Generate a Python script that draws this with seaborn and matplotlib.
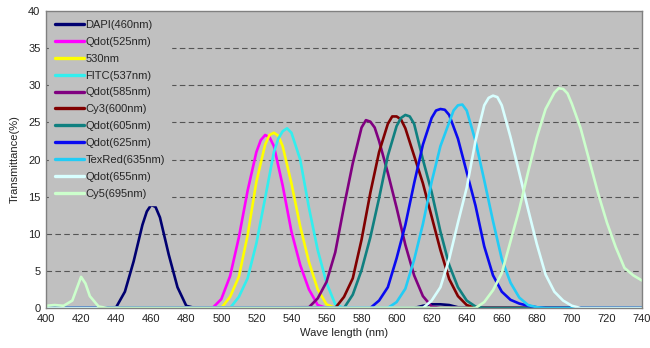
import matplotlib
matplotlib.use("Agg")
import matplotlib.pyplot as plt
import seaborn as sns
import pandas as pd

# ---- data ----
names = ["DAPI(460nm)", "Qdot(525nm)", "530nm", "FITC(537nm)", "Qdot(585nm)",
         "Cy3(600nm)", "Qdot(605nm)", "Qdot(625nm)", "TexRed(635nm)",
         "Qdot(655nm)", "Cy5(695nm)"]
colors = ["#000070", "#FF00FF", "#FFFF00", "#33EEEE", "#800080",
          "#800000", "#108080", "#0A0AF0", "#22CCF5", "#D8FFFF", "#CCFFCC"]

dapi_wl = [400, 440, 445, 450, 455, 457.5, 460, 462.5, 465, 470, 475, 480, 485,
           610, 615, 620, 625, 630, 635, 740]
dapi_t  = [0, 0.1, 2.2, 6.3, 11.2, 13.0, 13.9, 13.6, 12.2, 7.2, 2.8, 0.3, 0,
           0, 0.3, 0.5, 0.5, 0.4, 0.1, 0]

q525_wl = [400, 495, 500, 505, 510, 515, 520, 522.5, 525, 527.5, 530, 535, 540, 545, 550, 555, 560, 740]
q525_t  = [0, 0, 1.2, 4.3, 9.5, 15.8, 21.0, 22.6, 23.3, 23.0, 21.8, 16.5, 10.3, 5.8, 2.5, 0.4, 0, 0]

n530_wl = [400, 500, 505, 510, 515, 520, 525, 527.5, 530, 532.5, 535, 540, 545, 550, 555, 560, 565, 740]
n530_t  = [0, 0, 1.5, 4.2, 9.8, 17.0, 22.0, 23.3, 23.6, 23.2, 21.8, 16.8, 11.0, 6.2, 2.5, 0.5, 0, 0]

fitc_wl = [400, 505, 510, 515, 520, 525, 530, 532.5, 535, 537.5, 540, 545, 550, 555, 560, 565, 570, 740]
fitc_t  = [0, 0, 1.5, 4.0, 8.7, 14.8, 21.0, 22.8, 23.8, 24.2, 23.6, 20.0, 13.5, 7.8, 3.4, 0.5, 0, 0]

q585_wl = [400, 550, 555, 560, 565, 570, 575, 580, 582.5, 585, 587.5, 590, 595, 600, 605, 610, 615, 620, 625, 740]
q585_t  = [0, 0.1, 1.3, 3.5, 7.5, 13.7, 19.5, 24.3, 25.3, 25.1, 24.3, 22.5, 18.2, 13.5, 8.5, 4.4, 1.6, 0.2, 0, 0]

cy3_wl = [400, 565, 570, 575, 580, 585, 590, 595, 597.5, 600, 602.5, 605, 610, 615, 620, 625, 630, 635, 640, 645, 740]
cy3_t  = [0, 0, 1.5, 4.0, 9.2, 15.5, 21.0, 24.8, 25.8, 25.8, 25.4, 24.2, 20.5, 16.8, 12.3, 7.8, 3.9, 1.6, 0.4, 0, 0]

q605_wl = [400, 570, 575, 580, 585, 590, 595, 600, 602.5, 605, 607.5, 610, 615, 620, 625, 630, 635, 640, 645, 650, 740]
q605_t  = [0, 0, 1.8, 5.1, 9.5, 14.8, 20.5, 24.5, 25.6, 26.0, 25.8, 24.8, 20.0, 15.6, 10.3, 5.8, 2.8, 1.0, 0.2, 0, 0]

q625_wl = [400, 585, 590, 595, 600, 605, 610, 615, 620, 622.5, 625, 627.5, 630, 635, 640, 645, 650,
           655, 660, 665, 670, 675, 680, 685, 740]
q625_t  = [0, 0, 1.0, 2.8, 6.7, 11.2, 16.8, 22.0, 25.6, 26.6, 26.8, 26.7, 26.0, 22.8, 18.3, 13.8, 8.3,
           4.4, 2.2, 1.1, 0.6, 0.3, 0.1, 0, 0]

texred_wl = [400, 595, 600, 605, 610, 615, 620, 625, 630, 632.5, 635, 637.5, 640, 645, 650, 655, 660,
             665, 670, 675, 680, 685, 740]
texred_t  = [0, 0, 0.8, 2.6, 6.5, 11.3, 17.0, 21.8, 25.0, 26.6, 27.3, 27.4, 26.6, 22.5, 17.2, 11.7, 6.6,
             3.4, 1.4, 0.4, 0.1, 0, 0]

q655_wl = [400, 615, 620, 625, 630, 635, 640, 645, 650, 652.5, 655, 657.5, 660, 665, 670, 675, 680,
           685, 690, 695, 700, 705, 740]
q655_t  = [0, 0, 1.0, 2.8, 6.6, 11.5, 16.2, 22.5, 27.3, 28.3, 28.6, 28.4, 27.3, 23.0, 18.2, 13.3, 8.6,
           4.5, 2.2, 1.0, 0.3, 0, 0]

cy5_wl = [400, 405, 410, 415, 417.5, 420, 422.5, 425, 430, 435, 645, 650, 655, 660, 665, 670, 675, 680,
          685, 690, 692.5, 695, 697.5, 700, 705, 710, 715, 720, 725, 730, 735, 740]
cy5_t  = [0.3, 0.4, 0.3, 1.0, 2.6, 4.2, 3.3, 1.6, 0.2, 0, 0, 0.8, 2.4, 4.7, 9.0, 13.3, 18.3, 23.0,
          26.8, 29.0, 29.6, 29.5, 28.9, 27.5, 24.2, 19.8, 15.4, 11.5, 8.2, 5.4, 4.4, 3.7]

series = [(dapi_wl, dapi_t), (q525_wl, q525_t), (n530_wl, n530_t), (fitc_wl, fitc_t),
          (q585_wl, q585_t), (cy3_wl, cy3_t), (q605_wl, q605_t), (q625_wl, q625_t),
          (texred_wl, texred_t), (q655_wl, q655_t), (cy5_wl, cy5_t)]

x_ticks = list(range(400, 741, 20))
y_ticks = list(range(0, 41, 5))

# ---- build long-form table ----
rows = []
for name, (wl, t) in zip(names, series):
    for i, (w, v) in enumerate(zip(wl, t)):
        rows.append({"wl": w, "t": v, "series": name, "order": i})
df = pd.DataFrame(rows)

sns.set_theme(style="white")
plt.rcParams["font.family"] = ["Liberation Sans", "DejaVu Sans"]

fig = plt.figure(figsize=(6.5, 3.48), dpi=100)
ax = fig.add_axes([0.0708, 0.1149, 0.9169, 0.8535])
ax.set_facecolor("#C0C0C0")

sns.lineplot(data=df, x="wl", y="t", hue="series", hue_order=names,
             palette=dict(zip(names, colors)), sort=False, estimator=None,
             linewidth=1.9, ax=ax, legend=True)

ax.set_xlim(400, 740)
ax.set_ylim(0, 40)
ax.set_xticks(x_ticks)
ax.set_yticks(y_ticks)
ax.tick_params(axis="both", labelsize=8, colors="#222222", length=0, pad=4)
ax.tick_params(axis="x", direction="in", length=2, color="#555555")
for y in y_ticks[1:-1]:
    ax.axhline(y, color="#555555", linewidth=0.8, linestyle=(0, (5, 3)), zorder=0.5)
for s in ax.spines.values():
    s.set_color("#808080")
    s.set_linewidth(1.0)

ax.set_xlabel("Wave length (nm)", fontsize=8, labelpad=3, color="#222222")
ax.set_ylabel("Transmittance(%)", fontsize=8, labelpad=6, color="#222222")

handles, labels = ax.get_legend_handles_labels()
leg = ax.legend(handles, labels, loc="upper left", fontsize=8,
                frameon=True, facecolor="#C0C0C0", edgecolor="#C0C0C0",
                framealpha=1.0, fancybox=False, handlelength=2.6,
                handletextpad=0.15, labelspacing=0.62, borderpad=0.55,
                borderaxespad=0.25)
for line in leg.get_lines():
    line.set_linewidth(2.4)

fig.savefig("out.png", dpi=100, facecolor="white")
